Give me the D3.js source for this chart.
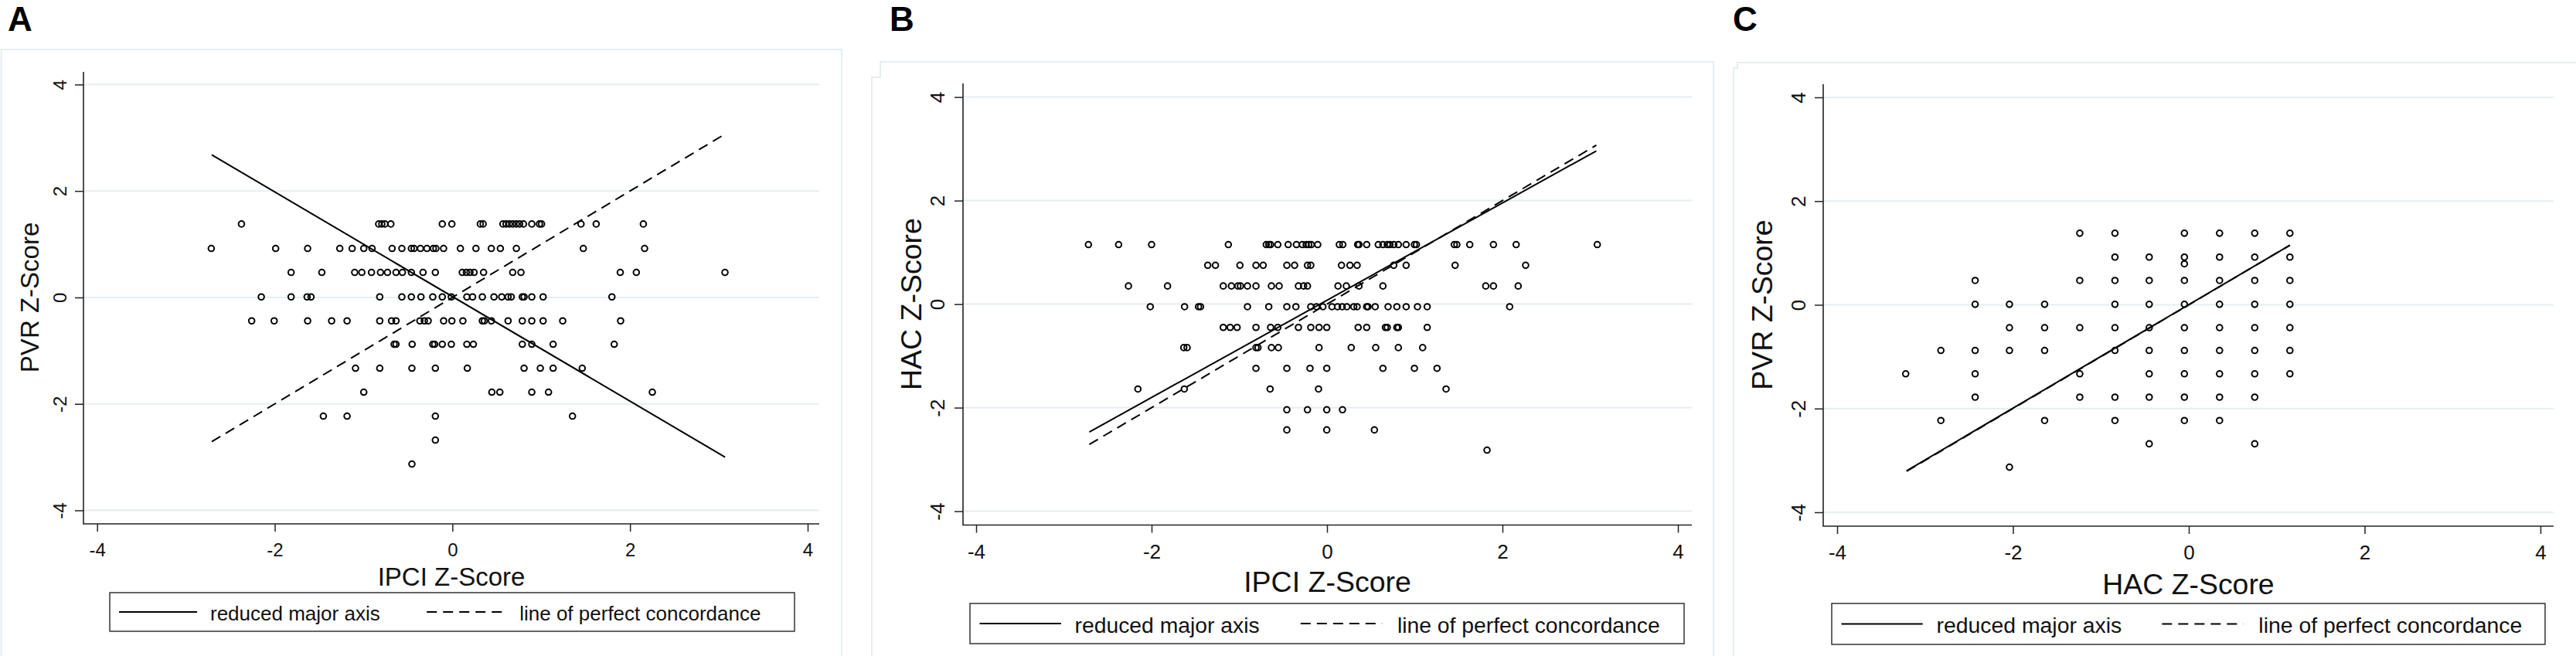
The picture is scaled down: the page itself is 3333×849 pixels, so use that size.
<!DOCTYPE html>
<html>
<head>
<meta charset="utf-8">
<script src="https://cdn.jsdelivr.net/npm/d3@7"></script>
<style>
  body { margin: 0; background: #fff; }
  svg { display: block; font-family: "Liberation Sans", Arial, sans-serif; }
</style>
</head>
<body>
<div id="chart"></div>
<script>
// axis ticks shared by all three panels
const tickValues = [-4, -2, 0, 2, 4];

// PVR z-score levels (rows of panel A) and IPCI z-scores on each row
const pvrLevels = [1.38, 0.92, 0.47, 0.01, -0.44, -0.88, -1.33, -1.78, -2.23, -2.68, -3.13];
const ipciByPvr = [
  [-2.375, -0.83, -0.795, -0.76, -0.693, -0.114, -0.006, 0.314, 0.346, 0.569, 0.604, 0.641, 0.679, 0.72, 0.757, 0.80, 0.894, 0.98, 1.004, 1.448, 1.619, 2.15],
  [-2.715, -1.99, -1.63, -1.268, -1.129, -0.998, -0.905, -0.679, -0.569, -0.462, -0.432, -0.36, -0.287, -0.215, -0.186, -0.099, 0.09, 0.265, 0.438, 0.54, 0.72, 1.474, 2.164],
  [-1.816, -1.47, -1.10, -1.02, -0.911, -0.81, -0.731, -0.635, -0.563, -0.462, -0.331, -0.192, 0.111, 0.157, 0.198, 0.244, 0.351, 0.679, 0.772, 1.89, 2.071, 3.069],
  [-2.152, -1.816, -1.636, -1.592, -0.818, -0.569, -0.462, -0.354, -0.221, -0.114, -0.012, 0.163, 0.227, 0.337, 0.468, 0.555, 0.627, 0.662, 0.787, 0.807, 0.894, 1.021, 1.796],
  [-2.26, -2.007, -1.63, -1.36, -1.186, -0.818, -0.685, -0.635, -0.366, -0.316, -0.273, -0.099, -0.006, 0.118, 0.337, 0.36, 0.439, 0.627, 0.787, 0.894, 1.021, 1.242, 1.894],
  [-0.656, -0.635, -0.453, -0.221, -0.2, -0.114, -0.012, 0.163, 0.236, 0.787, 0.894, 1.134, 1.822],
  [-1.091, -0.818, -0.456, -0.192, 0.168, 0.807, 0.99, 1.134, 1.462],
  [-0.998, 0.444, 0.534, 0.894, 1.082, 2.251],
  [-1.453, -1.186, -0.192, 1.352],
  [-0.192],
  [-0.456]
];

// HAC z-score levels (rows of panel B) and IPCI z-scores on each row
const hacLevels = [1.15, 0.75, 0.35, -0.05, -0.45, -0.84, -1.24, -1.64, -2.04, -2.43, -2.82];
const ipciByHac = [
  [-2.72, -2.376, -2.0, -1.125, -0.693, -0.664, -0.643, -0.561, -0.443, -0.349, -0.282, -0.238, -0.208, -0.179, -0.106, 0.14, 0.18, 0.349, 0.364, 0.452, 0.584, 0.637, 0.687, 0.717, 0.761, 0.813, 0.902, 0.996, 1.019, 1.451, 1.48, 1.627, 1.897, 2.156, 3.081],
  [-1.36, -1.272, -0.993, -0.81, -0.728, -0.458, -0.37, -0.223, -0.185, 0.165, 0.261, 0.343, 0.76, 0.902, 1.46, 2.264],
  [-2.264, -1.818, -1.183, -1.09, -1.016, -0.987, -0.907, -0.81, -0.634, -0.546, -0.326, -0.267, -0.223, 0.125, 0.22, 0.364, 0.637, 1.809, 1.897, 2.179],
  [-2.015, -1.624, -1.465, -1.442, -0.907, -0.664, -0.458, -0.355, -0.185, -0.12, -0.047, 0.056, 0.12, 0.173, 0.226, 0.305, 0.343, 0.452, 0.467, 0.549, 0.696, 0.796, 0.902, 1.031, 1.142, 2.082],
  [-1.183, -1.104, -1.025, -0.81, -0.643, -0.561, -0.326, -0.185, -0.091, -0.003, 0.355, 0.452, 0.666, 0.687, 0.796, 0.813, 1.142],
  [-1.633, -1.595, -0.81, -0.787, -0.634, -0.555, -0.091, 0.276, 0.555, 0.813, 1.09],
  [-0.81, -0.458, -0.194, -0.003, 0.637, 0.996, 1.254],
  [-2.156, -1.627, -0.649, -0.097, 1.357],
  [-0.458, -0.223, -0.003, 0.176],
  [-0.458, -0.003, 0.54],
  [1.824]
];

// PVR levels (rows of panel C) and HAC z-scores on each row
const pvrLevelsC = [1.38, 0.92, 0.79, 0.47, 0.01, -0.44, -0.88, -1.33, -1.78, -2.23, -2.68, -3.13];
const hacByPvr = [
  [-1.24, -0.84, -0.05, 0.35, 0.75, 1.15],
  [-0.84, -0.45, -0.05, 0.35, 0.75, 1.15],
  [-0.05],
  [-2.43, -1.24, -0.84, -0.45, -0.05, 0.35, 0.75, 1.15],
  [-2.43, -2.04, -1.64, -0.84, -0.45, -0.05, 0.35, 0.75, 1.15],
  [-2.04, -1.64, -1.24, -0.84, -0.45, -0.05, 0.35, 0.75, 1.15],
  [-2.82, -2.43, -2.04, -1.64, -0.84, -0.45, -0.05, 0.35, 0.75, 1.15],
  [-3.22, -2.43, -1.24, -0.45, -0.05, 0.35, 0.75, 1.15],
  [-2.43, -1.24, -0.84, -0.45, -0.05, 0.35, 0.75],
  [-2.82, -1.64, -0.84, -0.05, 0.35],
  [-0.45, 0.75],
  [-2.04]
];

// fitted lines: reduced major axis endpoints, and x-range of the y = x line
const rmaA = [[-2.71, 2.68], [3.07, -3.0]];
const rmaB = [[-2.71, -2.47], [3.07, 2.96]];
const rmaC = [[-3.21, -3.2], [1.15, 1.15]];
const concordA = [-2.71, 3.07];
const concordB = [-2.71, 3.07];
const concordC = [-3.21, 1.15];

const legendLabels = ["reduced major axis", "line of perfect concordance"];

const toPoints = (levels, rows) =>
  rows.flatMap((row, i) => row.map((v) => [v, levels[i]]));

const panels = [
  {
    label: "A", labelX: 10, xTitle: "IPCI Z-Score", yTitle: "PVR Z-Score",
    points: toPoints(pvrLevels, ipciByPvr), rma: rmaA, concord: concordA,
    frame: { left: 108, right: 1060, top: 93, bottom: 678 },
    xr: [125.7, 1045], yr: [660.5, 109.4],
    tickFs: 24, titleFs: 33, legendFs: 26,
    yLabelOff: 31, yTitleX: 38.6, xTitleY: 746,
    legend: { x: 142, y: 767, w: 886, h: 50 },
  },
  {
    label: "B", labelX: 1151, xTitle: "IPCI Z-Score", yTitle: "HAC Z-Score",
    points: toPoints(hacLevels, ipciByHac), rma: rmaB, concord: concordB,
    frame: { left: 1246, right: 2189, top: 108, bottom: 679.5 },
    xr: [1263, 2171], yr: [661.6, 125.6],
    tickFs: 26, titleFs: 37.5, legendFs: 28.3,
    yLabelOff: 33.5, yTitleX: 1178.6, xTitleY: 752.6,
    legend: { x: 1255, y: 781, w: 924, h: 52 },
  },
  {
    label: "C", labelX: 2242, xTitle: "HAC Z-Score", yTitle: "PVR Z-Score",
    points: toPoints(pvrLevelsC, hacByPvr).map(([p, h]) => [p, h]), rma: rmaC, concord: concordC,
    frame: { left: 2359, right: 3304, top: 109, bottom: 681 },
    xr: [2377, 3287], yr: [663, 126],
    tickFs: 26, titleFs: 37.4, legendFs: 28.4,
    yLabelOff: 32, yTitleX: 2279.5, xTitleY: 756,
    legend: { x: 2370, y: 781, w: 923, h: 53 },
  },
];

const width = 3333;
const height = 849;
const faint = "#e6eef1";

const svg = d3.select("#chart")
  .append("svg")
  .attr("width", width)
  .attr("height", height);

// faint outer frames of the three graph regions
const frames = [
  "M1.5,849 V64 H1089 V849",
  "M1128,849 V100 H1139 V80 H2217 V849",
  "M2243,849 V88 H2248 V81 H3333",
];
svg.selectAll("path.frame")
  .data(frames)
  .join("path")
  .attr("class", "frame")
  .attr("d", (d) => d)
  .attr("fill", "none")
  .attr("stroke", faint)
  .attr("stroke-width", 2);

panels.forEach((p) => {
  const g = svg.append("g");
  const x = d3.scaleLinear().domain([-4, 4]).range(p.xr);
  const y = d3.scaleLinear().domain([-4, 4]).range(p.yr);
  const f = p.frame;

  // panel letter
  g.append("text")
    .attr("x", p.labelX)
    .attr("y", 40)
    .attr("font-size", 44)
    .attr("font-weight", "bold")
    .attr("fill", "#000")
    .text(p.label);

  // horizontal gridlines
  g.append("g")
    .selectAll("line")
    .data(tickValues)
    .join("line")
    .attr("x1", f.left)
    .attr("x2", f.right)
    .attr("y1", (d) => y(d))
    .attr("y2", (d) => y(d))
    .attr("stroke", faint)
    .attr("stroke-width", 2);

  // hollow circle markers
  g.append("g")
    .selectAll("circle")
    .data(p.points)
    .join("circle")
    .attr("cx", (d) => x(d[0]))
    .attr("cy", (d) => y(d[1]))
    .attr("r", 3.8)
    .attr("fill", "none")
    .attr("stroke", "#000")
    .attr("stroke-width", 2);

  const line = d3.line().x((d) => x(d[0])).y((d) => y(d[1]));

  g.append("path")
    .attr("d", line(p.concord.map((v) => [v, v])))
    .attr("fill", "none")
    .attr("stroke", "#000")
    .attr("stroke-width", 2)
    .attr("stroke-dasharray", "13,8");

  g.append("path")
    .attr("d", line(p.rma))
    .attr("fill", "none")
    .attr("stroke", "#000")
    .attr("stroke-width", 2);

  // axes
  const xAxis = g.append("g")
    .attr("transform", `translate(0,${f.bottom})`)
    .call(d3.axisBottom(x).tickValues(tickValues).tickSize(10).tickPadding(15).tickFormat((d) => String(d)));
  const yAxis = g.append("g")
    .attr("transform", `translate(${f.left},0)`)
    .call(d3.axisLeft(y).tickValues(tickValues).tickSize(11).tickFormat((d) => String(d)));

  [xAxis, yAxis].forEach((a) => {
    a.select(".domain").remove();
    a.selectAll(".tick line").attr("stroke", "#222").attr("stroke-width", 1.5);
    a.selectAll(".tick text")
      .attr("font-size", p.tickFs)
      .attr("font-family", "Liberation Sans, Arial, sans-serif")
      .attr("fill", "#111");
  });

  yAxis.selectAll(".tick text")
    .attr("x", null)
    .attr("text-anchor", "middle")
    .attr("transform", `translate(${-p.yLabelOff},0) rotate(-90)`)
    .attr("dy", "0.36em");

  g.append("path")
    .attr("d", `M${f.left},${f.top} V${f.bottom} H${f.right}`)
    .attr("fill", "none")
    .attr("stroke", "#222")
    .attr("stroke-width", 1.6);

  // axis titles
  g.append("text")
    .attr("x", (f.left + f.right) / 2)
    .attr("y", p.xTitleY + 0.36 * p.titleFs)
    .attr("text-anchor", "middle")
    .attr("font-size", p.titleFs)
    .attr("fill", "#111")
    .text(p.xTitle);

  g.append("text")
    .attr("transform", `translate(${p.yTitleX},${y(0)}) rotate(-90)`)
    .attr("dy", "0.36em")
    .attr("text-anchor", "middle")
    .attr("font-size", p.titleFs)
    .attr("fill", "#111")
    .text(p.yTitle);

  // legend
  const L = p.legend;
  const k = L.w / 886;
  const cy = L.y + L.h / 2;
  const lg = g.append("g");
  lg.append("rect")
    .attr("x", L.x)
    .attr("y", L.y)
    .attr("width", L.w)
    .attr("height", L.h)
    .attr("fill", "#fff")
    .attr("stroke", "#333")
    .attr("stroke-width", 1.5);

  const items = [
    { x0: L.x + 12 * k, dash: null },
    { x0: L.x + 0.463 * L.w, dash: "13,8" },
  ];
  items.forEach((it, i) => {
    lg.append("line")
      .attr("x1", it.x0)
      .attr("x2", it.x0 + 101 * k)
      .attr("y1", cy)
      .attr("y2", cy)
      .attr("stroke", "#000")
      .attr("stroke-width", 2)
      .attr("stroke-dasharray", it.dash);
    lg.append("text")
      .attr("x", it.x0 + (i === 0 ? 118 : 120) * k)
      .attr("y", cy + 0.42 * p.legendFs)
      .attr("font-size", p.legendFs)
      .attr("fill", "#111")
      .text(legendLabels[i]);
  });
});
</script>
</body>
</html>
